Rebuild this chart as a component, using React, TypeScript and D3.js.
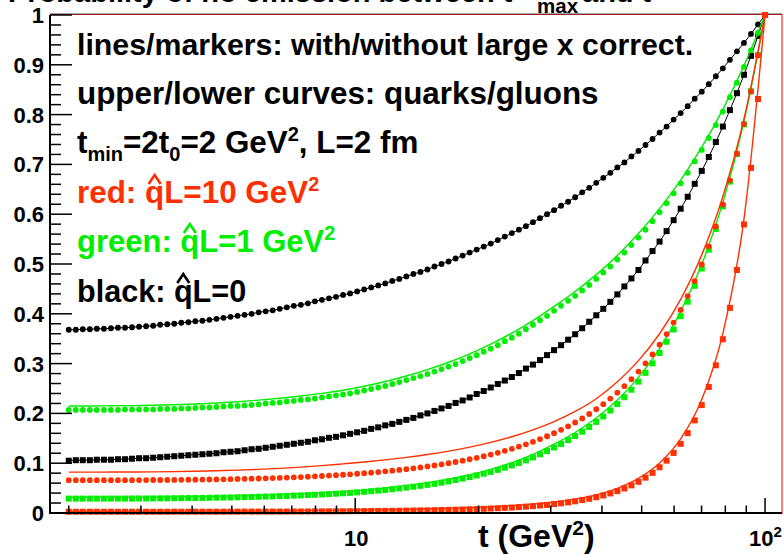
import React from 'react';
import * as d3 from 'd3';

// ---------------- data ----------------
const tGrid = [
  2.000, 2.081, 2.164, 2.252, 2.342, 2.437, 2.535, 2.637, 2.744, 2.854,
  2.969, 3.089, 3.214, 3.343, 3.478, 3.618, 3.764, 3.916, 4.073, 4.238,
  4.408, 4.586, 4.771, 4.963, 5.163, 5.371, 5.587, 5.813, 6.047, 6.291,
  6.544, 6.808, 7.082, 7.368, 7.665, 7.974, 8.295, 8.629, 8.977, 9.339,
  9.716, 10.108, 10.515, 10.939, 11.380, 11.839, 12.316, 12.812, 13.329, 13.866,
  14.425, 15.006, 15.611, 16.241, 16.895, 17.576, 18.285, 19.022, 19.788, 20.586,
  21.416, 22.279, 23.177, 24.112, 25.083, 26.094, 27.146, 28.240, 29.379, 30.563,
  31.795, 33.077, 34.410, 35.797, 37.240, 38.741, 40.302, 41.927, 43.617, 45.375,
  47.205, 49.108, 51.087, 53.146, 55.289, 57.517, 59.835, 62.247, 64.757, 67.366,
  70.083, 72.908, 75.847, 78.904, 82.084, 85.393, 88.835, 92.415, 96.140, 100.0,
];

// black: qhat L = 0 (markers, line identical)
const quarkQ0 = [
  .368, .368, .369, .369, .370, .370, .371, .372, .372, .373,
  .374, .375, .376, .378, .379, .380, .382, .383, .385, .386,
  .388, .390, .392, .394, .396, .398, .400, .403, .405, .407,
  .410, .413, .416, .418, .421, .425, .428, .431, .434, .438,
  .441, .445, .449, .453, .457, .461, .466, .470, .475, .480,
  .484, .489, .495, .500, .505, .511, .517, .523, .529, .535,
  .541, .548, .555, .562, .569, .576, .584, .592, .600, .608,
  .617, .625, .634, .644, .653, .663, .673, .683, .694, .704,
  .716, .727, .739, .751, .764, .776, .790, .803, .817, .832,
  .846, .861, .877, .893, .910, .927, .944, .962, .981, 1.000,
];
const gluonQ0 = [
  .105, .106, .106, .106, .107, .107, .107, .108, .108, .109,
  .110, .110, .111, .112, .113, .114, .115, .116, .117, .118,
  .119, .120, .122, .123, .124, .126, .128, .129, .131, .133,
  .135, .137, .139, .141, .143, .146, .148, .151, .153, .156,
  .159, .162, .165, .169, .172, .176, .179, .183, .187, .191,
  .196, .200, .205, .210, .215, .221, .226, .232, .239, .245,
  .252, .259, .266, .273, .281, .290, .298, .307, .317, .327,
  .337, .348, .359, .371, .384, .397, .410, .424, .439, .455,
  .471, .488, .507, .526, .545, .566, .588, .611, .635, .661,
  .687, .715, .745, .776, .809, .843, .880, .918, .958, 1.000,
];

// green: qhat L = 1 GeV^2, markers (without large-x correction)
const quarkQ1 = [
  .207, .207, .207, .207, .207, .207, .207, .207, .208, .208,
  .208, .208, .208, .209, .209, .209, .210, .210, .211, .212,
  .212, .213, .214, .215, .215, .216, .217, .218, .220, .221,
  .222, .224, .225, .227, .228, .230, .232, .234, .236, .238,
  .240, .243, .246, .249, .252, .255, .259, .263, .267, .271,
  .275, .279, .284, .289, .294, .299, .305, .311, .317, .324,
  .330, .337, .345, .352, .360, .369, .378, .387, .396, .406,
  .416, .426, .436, .447, .458, .470, .483, .495, .509, .523,
  .538, .553, .569, .586, .604, .622, .642, .662, .683, .706,
  .729, .753, .779, .806, .835, .864, .896, .929, .964, 1.000,
];
const gluonQ1 = [
  .0289, .0289, .0289, .0289, .0289, .0289, .0290, .0290, .0290, .0291,
  .0292, .0292, .0293, .0294, .0295, .0297, .0298, .0300, .0301, .0303,
  .0305, .0308, .0310, .0313, .0316, .0319, .0322, .0326, .0330, .0334,
  .0339, .0343, .0349, .0354, .0360, .0366, .0373, .0380, .0388, .0396,
  .0404, .0415, .0426, .0438, .0450, .0463, .0478, .0493, .0510, .0527,
  .0546, .0566, .0586, .0610, .0635, .0662, .0691, .0721, .0754, .0789,
  .0826, .0866, .0909, .0955, .1005, .1058, .1116, .1178, .1244, .1316,
  .1388, .1464, .1546, .1633, .1728, .1830, .1939, .2058, .2187, .2325,
  .2475, .2638, .2814, .3005, .3213, .3439, .3685, .3952, .4244, .4562,
  .4909, .5288, .5703, .6159, .6656, .7206, .7803, .8468, .9192, 1.000,
];

// red: qhat L = 10 GeV^2, markers
const quarkQ10 = [
  .0660, .0660, .0660, .0660, .0660, .0660, .0660, .0660, .0660, .0660,
  .0661, .0662, .0663, .0663, .0664, .0665, .0666, .0668, .0669, .0671,
  .0673, .0675, .0677, .0680, .0683, .0686, .0689, .0693, .0697, .0701,
  .0706, .0711, .0717, .0722, .0729, .0736, .0743, .0751, .0759, .0768,
  .0777, .0788, .0799, .0810, .0822, .0836, .0850, .0865, .0880, .0898,
  .0915, .0935, .0955, .0977, .1000, .1024, .1051, .1079, .1108, .1140,
  .1173, .1209, .1248, .1289, .1333, .1380, .1429, .1484, .1541, .1603,
  .1670, .1741, .1817, .1900, .1988, .2083, .2186, .2297, .2417, .2547,
  .2688, .2840, .3005, .3185, .3380, .3592, .3824, .4077, .4355, .4658,
  .4990, .5354, .5754, .6195, .6681, .7217, .7810, .8466, .9193, 1.000,
];
const gluonQ10 = [
  .0025, .0025, .0025, .0025, .0025, .0025, .0025, .0025, .0025, .0025,
  .0025, .0025, .0025, .0025, .0025, .0026, .0026, .0026, .0026, .0026,
  .0026, .0026, .0027, .0027, .0027, .0028, .0028, .0028, .0029, .0029,
  .0029, .0030, .0030, .0030, .0031, .0032, .0033, .0034, .0034, .0035,
  .0036, .0037, .0038, .0040, .0041, .0043, .0044, .0046, .0048, .0050,
  .0052, .0054, .0057, .0060, .0063, .0066, .0070, .0075, .0079, .0084,
  .0090, .0096, .0103, .0110, .0119, .0128, .0139, .0150, .0163, .0179,
  .0195, .0214, .0235, .0259, .0286, .0317, .0352, .0393, .0439, .0493,
  .0555, .0627, .0710, .0806, .0919, .1052, .1206, .1389, .1604, .1860,
  .2167, .2531, .2966, .3489, .4119, .4880, .5795, .6930, .8313, 1.000,
];

// curves with large-x correction
const lineT = [
  2.000, 2.252, 2.535, 2.854, 3.214, 3.618, 4.073, 4.586, 5.163, 5.813,
  6.544, 7.368, 8.295, 9.339, 10.515, 11.839, 13.329, 15.006, 16.895, 19.022,
  21.416, 24.112, 27.146, 30.563, 34.410, 38.741, 43.617, 49.108, 55.289, 62.247,
  70.083, 78.904, 88.835, 100.0,
];
const quarkQ1Line = [
  .2150, .2150, .2153, .2157, .2164, .2175, .2190, .2210, .2235, .2266,
  .2304, .2349, .2402, .2464, .2544, .2640, .2751, .2880, .3027, .3197,
  .3391, .3612, .3864, .4148, .4448, .4786, .5170, .5611, .6112, .6686,
  .7346, .8106, .8984, 1.000,
];
const gluonQ1Line = [
  .0315, .0315, .0316, .0317, .0319, .0323, .0328, .0335, .0343, .0354,
  .0368, .0384, .0404, .0428, .0460, .0500, .0549, .0609, .0681, .0768,
  .0877, .1011, .1177, .1382, .1617, .1907, .2269, .2723, .3303, .4043,
  .4995, .6233, .7857, 1.000,
];
const quarkQ10Line = [
  .0821, .0821, .0822, .0823, .0826, .0831, .0838, .0848, .0861, .0877,
  .0897, .0921, .0951, .0987, .1024, .1066, .1116, .1174, .1242, .1322,
  .1418, .1532, .1670, .1836, .2039, .2295, .2634, .3059, .3599, .4289,
  .5183, .6356, .7911, 1.000,
];
const gluonQ10Line = [
  .0036, .0036, .0036, .0036, .0037, .0037, .0038, .0039, .0040, .0042,
  .0044, .0047, .0050, .0055, .0059, .0065, .0072, .0081, .0092, .0105,
  .0123, .0147, .0178, .0220, .0279, .0364, .0496, .0694, .1003, .1489,
  .2280, .3607, .5901, 1.000,
];

const yMajorTicks = [0, 0.1, 0.2, 0.3, 0.4, 0.5, 0.6, 0.7, 0.8, 0.9, 1];
const yTickLabels = ['0', '0.1', '0.2', '0.3', '0.4', '0.5', '0.6', '0.7', '0.8', '0.9', '1'];
const xMajorTicks = [10, 100];
const xMinorTicks = [2, 3, 4, 5, 6, 7, 8, 9, 20, 30, 40, 50, 60, 70, 80, 90];

// ---------------- styling ----------------
const W = 784;
const H = 554;
const F = { left: 50, right: 782, top: 15, bottom: 513 };
const FONT = "'Liberation Sans', Arial, Helvetica, sans-serif";
const RED = '#ff3000';
const GREEN = '#00ee00';
const BLACK = '#000000';

type Pt = [number, number];

export default function App() {
  const x = d3.scaleLog().domain([1.8, 110]).range([F.left, F.right]);
  const y = d3.scaleLinear().domain([0, 1]).range([F.bottom, F.top]);

  const straight = d3.line<Pt>().x((d) => x(d[0])).y((d) => y(d[1]));
  const smooth = d3
    .line<Pt>()
    .x((d) => x(d[0]))
    .y((d) => y(d[1]))
    .curve(d3.curveMonotoneX);

  const zip = (ts: number[], vs: number[]): Pt[] => ts.map((t, i) => [t, vs[i]]);

  const markerSeries = [
    { vals: quarkQ0, color: BLACK, shape: 'circle', line: true },
    { vals: gluonQ0, color: BLACK, shape: 'square', line: true },
    { vals: quarkQ1, color: GREEN, shape: 'circle', line: false },
    { vals: gluonQ1, color: GREEN, shape: 'square', line: false },
    { vals: quarkQ10, color: RED, shape: 'circle', line: false },
    { vals: gluonQ10, color: RED, shape: 'square', line: false },
  ];
  const curveSeries = [
    { vals: quarkQ1Line, color: GREEN },
    { vals: gluonQ1Line, color: GREEN },
    { vals: quarkQ10Line, color: RED },
    { vals: gluonQ10Line, color: RED },
  ];

  const yMinor: number[] = d3.range(0, 50).map((k) => k / 50).filter((v, i) => i % 5 !== 0);

  const drawMarkers = (s: typeof markerSeries[number], key: string) => (
    <g key={key} fill={s.color}>
      {s.line && (
        <path d={straight(zip(tGrid, s.vals)) || ''} fill="none" stroke={s.color} strokeWidth={1} />
      )}
      {tGrid.map((t, i) =>
        s.shape === 'circle' ? (
          <circle key={i} cx={x(t)} cy={y(s.vals[i])} r={2.9} />
        ) : (
          <rect key={i} x={x(t) - 3} y={y(s.vals[i]) - 3} width={6} height={6} />
        )
      )}
    </g>
  );

  const hat = (cx: number, base: number, color: string) => (
    <path
      d={`M${cx - 6},${base - 19} L${cx},${base - 28} L${cx + 6},${base - 19}`}
      fill="none"
      stroke={color}
      strokeWidth={2.6}
      strokeLinejoin="miter"
    />
  );

  const tx = 77;
  const lineY = [55, 104, 153, 203, 252, 302];
  const sizes = [30.3, 31.4, 31.4, 31.4, 31, 30.6];
  const qHalf = (fs: number) => 611 * (fs / 1000) * 0.5;

  return (
    <svg
      width={W}
      height={H}
      viewBox={`0 0 ${W} ${H}`}
      style={{ position: 'absolute', left: 0, top: 0, background: '#fff' }}
      fontFamily={FONT}
      fontWeight="bold"
    >
      <rect x={0} y={0} width={W} height={H} fill="#fff" />

      {/* title, mostly outside the picture */}
      <text x={8} y={2} fontSize={29}>Probability of no emission between t</text>
      <text x={537} y={13} fontSize={20.5}>max</text>
      <text x={582} y={2} fontSize={29}> and t</text>

      {/* frame */}
      <rect
        x={F.left + 0.5}
        y={F.top - 0.5}
        width={F.right - F.left - 0.5}
        height={F.bottom - F.top + 1}
        fill="none"
        stroke="#ff0000"
        strokeWidth={1}
      />
      <line x1={F.left} x2={F.right} y1={F.top - 1} y2={F.top - 1} stroke="#444" strokeWidth={1} />

      {/* data: black, green, red */}
      {markerSeries.slice(0, 2).map((s, i) => drawMarkers(s, 'b' + i))}
      {curveSeries.slice(0, 2).map((s, i) => (
        <path key={'gl' + i} d={smooth(zip(lineT, s.vals)) || ''} fill="none" stroke={s.color} strokeWidth={1.4} />
      ))}
      {markerSeries.slice(2, 4).map((s, i) => drawMarkers(s, 'g' + i))}
      {curveSeries.slice(2, 4).map((s, i) => (
        <path key={'rl' + i} d={smooth(zip(lineT, s.vals)) || ''} fill="none" stroke={s.color} strokeWidth={1.4} />
      ))}
      {markerSeries.slice(4, 6).map((s, i) => drawMarkers(s, 'r' + i))}

      {/* axes */}
      <line x1={F.left} x2={F.left} y1={F.top} y2={F.bottom + 1} stroke={BLACK} strokeWidth={2} />
      <line x1={F.left - 1} x2={F.right} y1={F.bottom} y2={F.bottom} stroke={BLACK} strokeWidth={2} />

      {yMajorTicks.map((v, i) => (
        <g key={'ym' + i}>
          <line x1={F.left} x2={F.left + 22} y1={y(v)} y2={y(v)} stroke={BLACK} strokeWidth={1.5} />
          <text x={44} y={y(v) + 8} fontSize={22} textAnchor="end">
            {yTickLabels[i]}
          </text>
        </g>
      ))}
      {yMinor.map((v, i) => (
        <line key={'yn' + i} x1={F.left} x2={F.left + 11} y1={y(v)} y2={y(v)} stroke={BLACK} strokeWidth={1.5} />
      ))}

      {xMinorTicks.map((t) => (
        <line key={'xn' + t} x1={x(t)} x2={x(t)} y1={F.bottom} y2={F.bottom - 7.5} stroke={BLACK} strokeWidth={1.5} />
      ))}
      {xMajorTicks.map((t) => (
        <line key={'xm' + t} x1={x(t)} x2={x(t)} y1={F.bottom} y2={F.bottom - 15} stroke={BLACK} strokeWidth={1.5} />
      ))}
      <text x={x(10) + 1} y={546} fontSize={22} textAnchor="middle">10</text>
      <text x={x(100) - 16} y={546} fontSize={22}>
        10<tspan dy={-9} fontSize={15}>2</tspan>
      </text>

      {/* axis title */}
      <text x={478} y={547} fontSize={32}>
        t (GeV<tspan dy={-12} fontSize={21}>2</tspan>
        <tspan dy={12}>)</tspan>
      </text>

      {/* legend text */}
      <text x={tx} y={lineY[0]} fontSize={sizes[0]}>lines/markers: with/without large x correct.</text>
      <text x={tx} y={lineY[1]} fontSize={sizes[1]}>upper/lower curves: quarks/gluons</text>
      <text x={tx} y={lineY[2]} fontSize={sizes[2]}>
        t<tspan dy={8} fontSize={20}>min</tspan>
        <tspan dy={-8}>=2t</tspan>
        <tspan dy={8} fontSize={20}>0</tspan>
        <tspan dy={-8}>=2 GeV</tspan>
        <tspan dy={-12} fontSize={20}>2</tspan>
        <tspan dy={12}>, L=2 fm</tspan>
      </text>

      <text x={tx} y={lineY[3]} fontSize={sizes[3]} fill={RED}>
        red: qL=10 GeV<tspan dy={-12} fontSize={20}>2</tspan>
      </text>
      {hat(tx + 2167 * (sizes[3] / 1000) + qHalf(sizes[3]), lineY[3], RED)}

      <text x={tx} y={lineY[4]} fontSize={sizes[4]} fill={GREEN}>
        green: qL=1 GeV<tspan dy={-12} fontSize={20}>2</tspan>
      </text>
      {hat(tx + 3334 * (sizes[4] / 1000) + qHalf(sizes[4]), lineY[4], GREEN)}

      <text x={tx} y={lineY[5]} fontSize={sizes[5]} fill={BLACK}>
        black: qL=0
      </text>
      {hat(tx + 3168 * (sizes[5] / 1000) + qHalf(sizes[5]), lineY[5], BLACK)}
    </svg>
  );
}
